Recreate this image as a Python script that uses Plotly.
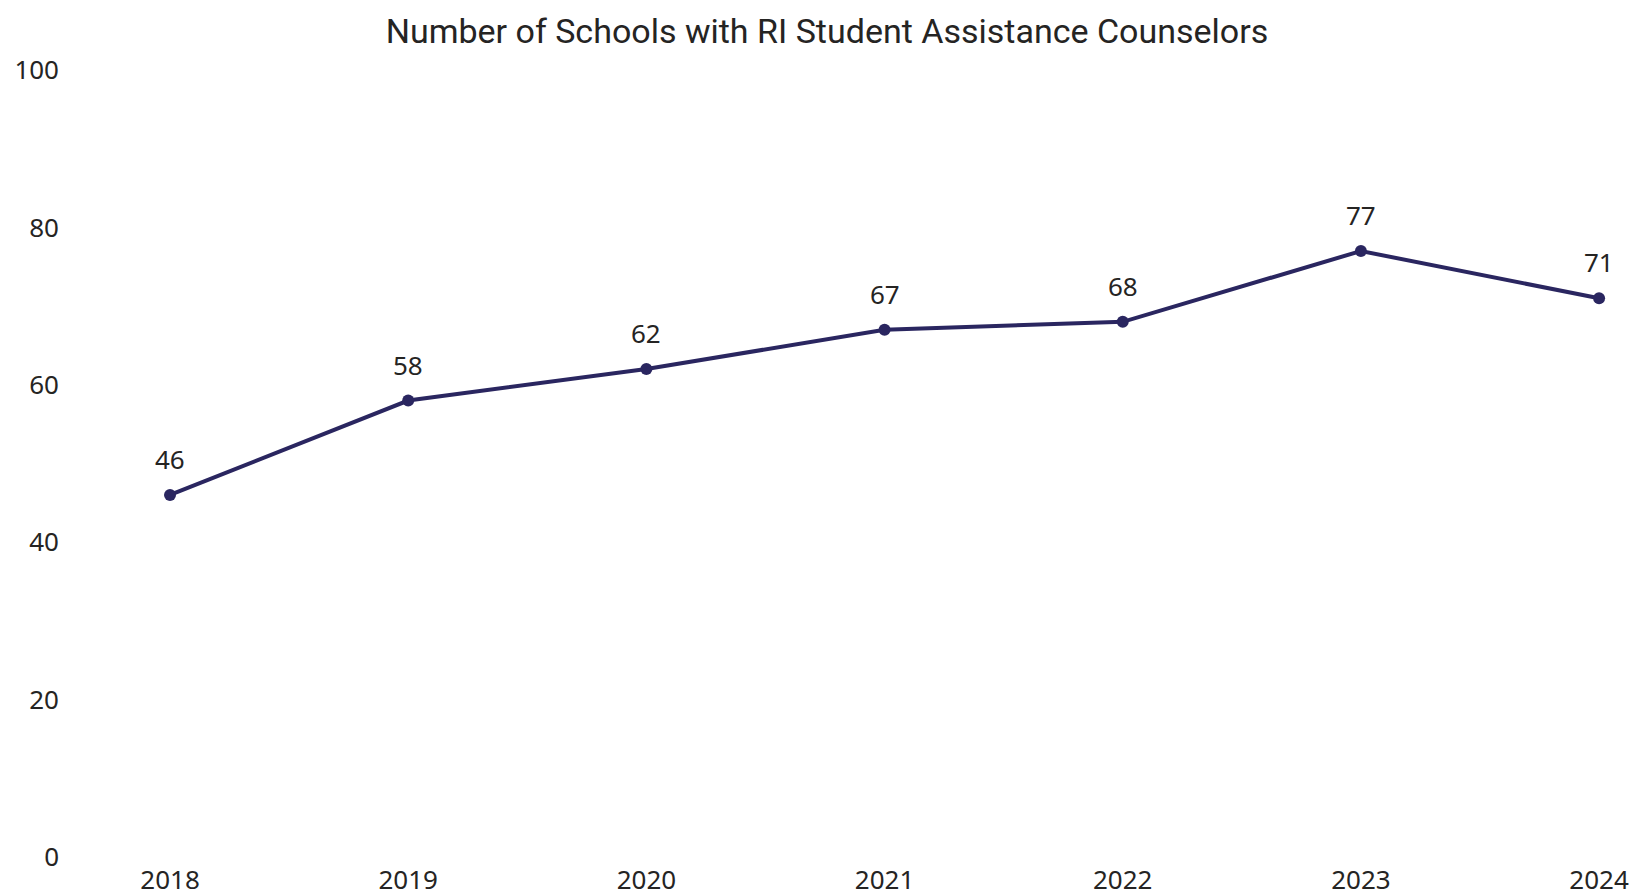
import plotly.graph_objects as go

years = [2018, 2019, 2020, 2021, 2022, 2023, 2024]
schools = [46, 58, 62, 67, 68, 77, 71]
y_ticks = [0, 20, 40, 60, 80, 100]
title_text = "Number of Schools with RI Student Assistance Counselors"

line_color = "#2A2660"
text_color = "#252423"

fig = go.Figure()
fig.add_trace(go.Scatter(
    x=years, y=schools, mode="lines+markers",
    line=dict(color=line_color, width=4),
    marker=dict(color=line_color, size=12),
    showlegend=False, hoverinfo="x+y",
))
for x, y in zip(years, schools):
    fig.add_annotation(x=x, y=y, text=str(y), showarrow=False, yshift=36,
                       font=dict(family="Noto Sans", size=26, color=text_color))

fig.update_layout(
    width=1638, height=896,
    paper_bgcolor="white", plot_bgcolor="white",
    margin=dict(l=62, r=30, t=62, b=47),
    title=dict(text=title_text, x=0.5, xanchor="center", y=0.974, yanchor="middle",
               font=dict(family="Roboto", size=34, color=text_color)),
    xaxis=dict(range=[2017.58, 2024.071], tickvals=years, ticktext=[str(v) for v in years],
               showgrid=False, zeroline=False, showline=False, ticks="", automargin=False,
               tickfont=dict(family="Noto Sans", size=26, color=text_color), ticklabelstandoff=5),
    yaxis=dict(range=[0, 100], tickvals=y_ticks, showgrid=False, zeroline=False, showline=False,
               ticks="", automargin=False, ticklabelstandoff=10,
               tickfont=dict(family="Noto Sans", size=26, color=text_color)),
)
fig.write_html("out.html")
